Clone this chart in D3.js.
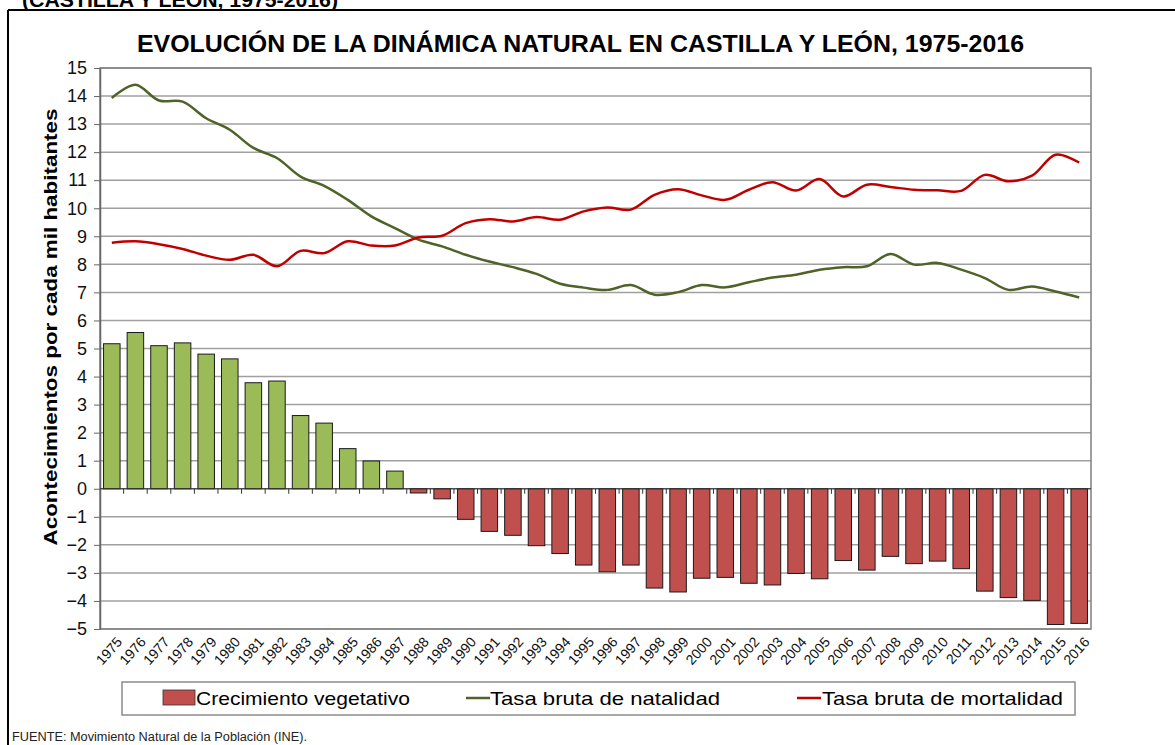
<!DOCTYPE html>
<html>
<head>
<meta charset="utf-8">
<script src="https://cdn.jsdelivr.net/npm/d3@7"></script>
<style>
  body { margin: 0; background: #fff; }
  svg { display: block; font-family: Arial, "Liberation Sans", sans-serif; }
</style>
</head>
<body>
<svg width="1175" height="745"></svg>
<script>
const years = d3.range(1975, 2017).map(String);

const crecimiento = [5.17, 5.57, 5.10, 5.20, 4.80, 4.63, 3.78, 3.84, 2.61, 2.34,
  1.43, 0.99, 0.63, -0.15, -0.36, -1.09, -1.52, -1.66, -2.03, -2.31,
  -2.72, -2.96, -2.72, -3.54, -3.68, -3.19, -3.16, -3.37, -3.43, -3.02,
  -3.21, -2.56, -2.90, -2.41, -2.67, -2.58, -2.85, -3.65, -3.88, -3.98,
  -4.84, -4.80];

const natalidad = [13.93, 14.40, 13.84, 13.80, 13.21, 12.80, 12.15, 11.79, 11.13, 10.80,
  10.30, 9.71, 9.29, 8.88, 8.64, 8.34, 8.10, 7.90, 7.66, 7.31,
  7.17, 7.09, 7.26, 6.92, 7.01, 7.26, 7.18, 7.36, 7.53, 7.63,
  7.81, 7.90, 7.93, 8.37, 7.99, 8.05, 7.81, 7.51, 7.09, 7.21,
  7.03, 6.82];

const mortalidad = [8.77, 8.82, 8.72, 8.55, 8.31, 8.16, 8.34, 7.93, 8.48, 8.40,
  8.82, 8.67, 8.67, 8.96, 9.02, 9.47, 9.61, 9.53, 9.69, 9.59,
  9.89, 10.03, 9.95, 10.48, 10.68, 10.46, 10.30, 10.66, 10.93, 10.63,
  11.04, 10.42, 10.84, 10.76, 10.66, 10.64, 10.62, 11.19, 10.96, 11.16,
  11.91, 11.63];

const yTicks = d3.range(-5, 16);

const svg = d3.select('svg');
const plotLeft = 100, plotRight = 1091, plotTop = 68, plotBottom = 629;

// outer frame
svg.append('line').attr('x1', 8).attr('x2', 1175).attr('y1', 10).attr('y2', 10)
  .attr('stroke', '#000').attr('stroke-width', 2);
svg.append('line').attr('x1', 8).attr('x2', 8).attr('y1', 10).attr('y2', 745)
  .attr('stroke', '#000').attr('stroke-width', 2);

svg.append('text')
  .attr('x', 22).attr('y', 7)
  .attr('font-size', 20).attr('font-weight', 'bold')
  .attr('textLength', 316).attr('lengthAdjust', 'spacingAndGlyphs')
  .text('(CASTILLA Y LEÓN, 1975-2016)');

svg.append('text')
  .attr('x', 137).attr('y', 52)
  .attr('font-size', 23).attr('font-weight', 'bold')
  .attr('textLength', 887).attr('lengthAdjust', 'spacingAndGlyphs')
  .text('EVOLUCIÓN DE LA DINÁMICA NATURAL EN CASTILLA Y LEÓN, 1975-2016');

const x = d3.scaleBand()
  .domain(years)
  .range([plotLeft, plotRight])
  .paddingInner(0.3)
  .paddingOuter(0.15);

const y = d3.scaleLinear()
  .domain([-5, 15])
  .range([plotBottom, plotTop]);

// gridlines
svg.append('g')
  .selectAll('line')
  .data(yTicks)
  .enter()
  .append('line')
  .attr('x1', plotLeft).attr('x2', plotRight)
  .attr('y1', d => y(d)).attr('y2', d => y(d))
  .attr('stroke', '#a0a0a0')
  .attr('stroke-width', 1.5);

// plot frame
svg.append('rect')
  .attr('x', plotLeft).attr('y', plotTop)
  .attr('width', plotRight - plotLeft).attr('height', plotBottom - plotTop)
  .attr('fill', 'none')
  .attr('stroke', '#7f7f7f')
  .attr('stroke-width', 1.5);

// bars
svg.append('g')
  .selectAll('rect')
  .data(crecimiento)
  .enter()
  .append('rect')
  .attr('x', (d, i) => x(years[i]))
  .attr('width', x.bandwidth())
  .attr('y', d => y(Math.max(0, d)))
  .attr('height', d => Math.abs(y(d) - y(0)))
  .attr('fill', d => d >= 0 ? '#9bbb59' : '#c0504d')
  .attr('stroke', '#1a1a1a')
  .attr('stroke-width', 1);

// y axis
const yAxis = svg.append('g')
  .attr('transform', `translate(${plotLeft},0)`)
  .call(d3.axisLeft(y).tickValues(yTicks).tickSize(6).tickSizeOuter(0).tickFormat(d3.format('d')));
yAxis.select('.domain').attr('stroke', '#666').attr('stroke-width', 1.5);
yAxis.selectAll('.tick line').attr('stroke', '#666');
yAxis.selectAll('.tick text')
  .attr('font-size', 18)
  .attr('font-family', 'Arial, "Liberation Sans", sans-serif')
  .attr('fill', '#111')
  .attr('x', -13);

// zero axis with ticks at category boundaries
const step = x.step();
const boundaries = years.slice(1).map(yr => x(yr) - step * x.paddingInner() / 2);
svg.append('line')
  .attr('x1', plotLeft).attr('x2', plotRight)
  .attr('y1', y(0)).attr('y2', y(0))
  .attr('stroke', '#333').attr('stroke-width', 1.2);
svg.append('g')
  .selectAll('line')
  .data(boundaries)
  .enter()
  .append('line')
  .attr('x1', d => d).attr('x2', d => d)
  .attr('y1', y(0)).attr('y2', y(0) + 5)
  .attr('stroke', '#333');

// x labels at bottom
svg.append('g')
  .selectAll('text')
  .data(years)
  .enter()
  .append('text')
  .attr('transform', d => `translate(${x(d) + x.bandwidth() / 2 + 4},${plotBottom + 7}) rotate(-48)`)
  .attr('text-anchor', 'end')
  .attr('dy', '0.7em')
  .attr('font-size', 14)
  .attr('fill', '#111')
  .text(d => d);

// lines
const line = d3.line()
  .x((d, i) => x(years[i]) + x.bandwidth() / 2)
  .y(d => y(d))
  .curve(d3.curveCatmullRom);

svg.append('path')
  .datum(natalidad)
  .attr('d', line)
  .attr('fill', 'none')
  .attr('stroke', '#4f6228')
  .attr('stroke-width', 2.5);

svg.append('path')
  .datum(mortalidad)
  .attr('d', line)
  .attr('fill', 'none')
  .attr('stroke', '#c00000')
  .attr('stroke-width', 2.5);

// y axis title
svg.append('text')
  .attr('transform', 'translate(57,327) rotate(-90)')
  .attr('text-anchor', 'middle')
  .attr('font-size', 18)
  .attr('font-weight', 'bold')
  .attr('textLength', 437).attr('lengthAdjust', 'spacingAndGlyphs')
  .text('Acontecimientos  por cada mil habitantes');

// legend
const legend = svg.append('g');
legend.append('rect')
  .attr('x', 122).attr('y', 682)
  .attr('width', 953).attr('height', 33)
  .attr('fill', '#fff')
  .attr('stroke', '#8c8c8c')
  .attr('stroke-width', 1.5);
legend.append('rect')
  .attr('x', 163).attr('y', 690).attr('width', 32).attr('height', 15)
  .attr('fill', '#c0504d').attr('stroke', '#333').attr('stroke-width', 0.8);
legend.append('text').attr('x', 196).attr('y', 705).attr('font-size', 19)
  .attr('textLength', 214).attr('lengthAdjust', 'spacingAndGlyphs')
  .text('Crecimiento vegetativo');
legend.append('line').attr('x1', 466).attr('x2', 490).attr('y1', 698).attr('y2', 698)
  .attr('stroke', '#4f6228').attr('stroke-width', 2.5);
legend.append('text').attr('x', 490).attr('y', 705).attr('font-size', 19)
  .attr('textLength', 230).attr('lengthAdjust', 'spacingAndGlyphs')
  .text('Tasa bruta de natalidad');
legend.append('line').attr('x1', 797).attr('x2', 821).attr('y1', 698).attr('y2', 698)
  .attr('stroke', '#c00000').attr('stroke-width', 2.5);
legend.append('text').attr('x', 822).attr('y', 705).attr('font-size', 19)
  .attr('textLength', 241).attr('lengthAdjust', 'spacingAndGlyphs')
  .text('Tasa bruta de mortalidad');

svg.append('text')
  .attr('x', 12).attr('y', 741)
  .attr('font-size', 12)
  .attr('fill', '#222')
  .attr('textLength', 295).attr('lengthAdjust', 'spacingAndGlyphs')
  .text('FUENTE: Movimiento Natural de la Población (INE).');
</script>
</body>
</html>
